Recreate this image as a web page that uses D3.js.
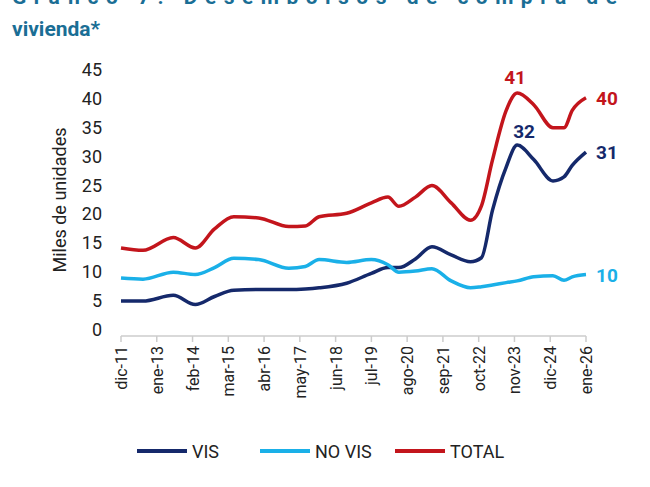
<!DOCTYPE html>
<html><head><meta charset="utf-8">
<script src="https://cdn.jsdelivr.net/npm/d3@7"></script>
<style>body{margin:0;background:#fff}svg{font-family:Roboto,"Liberation Sans",sans-serif}</style>
</head><body><div id="container"></div>
<script>
// months since dic-11
const months = [0, 8, 19, 27, 34, 41, 50, 61, 67, 72, 82, 91, 97, 101, 107, 113, 120, 127, 131, 135, 140, 144, 150, 157, 161, 164, 169]
const vis    = [5, 5, 6, 4.4, 5.8, 6.9, 7, 7, 7.1, 7.3, 8.1, 9.8, 10.8, 10.8, 12.3, 14.4, 13, 11.8, 12.5, 20.7, 28.2, 32, 29.5, 25.8, 26.5, 28.5, 30.8]
const noVis  = [9, 8.8, 10, 9.6, 10.8, 12.4, 12.2, 10.7, 11, 12.2, 11.7, 12.2, 11.3, 10, 10.2, 10.6, 8.5, 7.3, 7.5, 7.8, 8.2, 8.5, 9.2, 9.4, 8.6, 9.2, 9.6]
const total  = [14.2, 13.8, 16, 14.2, 17.5, 19.6, 19.4, 17.9, 18, 19.6, 20.2, 22, 23, 21.4, 23, 25, 22, 19, 21.5, 29.4, 38, 41, 39, 35, 35, 38, 40.2]
const tickLabels = ['dic-11','ene-13','feb-14','mar-15','abr-16','may-17','jun-18','jul-19','ago-20','sep-21','oct-22','nov-23','dic-24','ene-26']
const yTicks = [0, 5, 10, 15, 20, 25, 30, 35, 40, 45]
const series = [
  {name: 'VIS', values: vis, color: '#15296b', label: [{i: 21, dx: -4, dy: -14, t: '32'}, {i: 26, dx: 10, dy: 0, t: '31', anchor: 'start'}]},
  {name: 'NO VIS', values: noVis, color: '#1ab0e8', label: [{i: 26, dx: 10, dy: 0, t: '10', anchor: 'start'}]},
  {name: 'TOTAL', values: total, color: '#c3151c', label: [{i: 21, dx: -13, dy: -16, t: '41'}, {i: 26, dx: 10, dy: 0, t: '40', anchor: 'start'}]}
]

const width = 650, height = 487
const svg = d3.select('#container').append('svg').attr('width', width).attr('height', height)

const x = d3.scaleLinear().domain([0, 169]).range([121, 586])
const y = d3.scaleLinear().domain([0, 45]).range([330, 70])

// title (partly cut off at the top)
svg.append('text').attr('x', 12).attr('y', 4).attr('fill', '#1a6e95').attr('font-weight', 'bold')
  .attr('font-size', 21).attr('textLength', 605).attr('lengthAdjust', 'spacing')
  .text('Gráfico 7. Desembolsos de compra de')
svg.append('text').attr('x', 12).attr('y', 36).attr('fill', '#1a6e95').attr('font-weight', 'bold')
  .attr('font-size', 21).text('vivienda*')

// y axis labels
svg.selectAll('.ytick').data(yTicks).join('text')
  .attr('x', 102).attr('y', d => y(d) + 6).attr('text-anchor', 'end')
  .attr('font-size', 18).attr('fill', '#222').text(d => d)
svg.append('text').attr('transform', 'translate(66,200) rotate(-90)').attr('text-anchor', 'middle')
  .attr('font-size', 18).attr('fill', '#222').text('Miles de unidades')

// x axis
const tickMonths = tickLabels.map((d, i) => i * 13)
svg.append('line').attr('x1', x(0)).attr('x2', x(169)).attr('y1', 336).attr('y2', 336).attr('stroke', '#ccc').attr('stroke-width', 1.5)
svg.selectAll('.xt').data(tickMonths).join('line')
  .attr('x1', d => x(d)).attr('x2', d => x(d)).attr('y1', 336).attr('y2', 342).attr('stroke', '#ccc').attr('stroke-width', 1.5)
svg.selectAll('.xl').data(tickLabels).join('text')
  .attr('transform', (d, i) => `translate(${x(tickMonths[i]) + 6},346) rotate(-90)`)
  .attr('text-anchor', 'end').attr('font-size', 16).attr('fill', '#222').text(d => d)

// lines
const line = d3.line().x((d, i) => x(months[i])).y(d => y(d)).curve(d3.curveMonotoneX)
series.forEach(s => {
  svg.append('path').attr('d', line(s.values)).attr('fill', 'none')
    .attr('stroke', s.color).attr('stroke-width', 3.5).attr('stroke-linejoin', 'round')
  s.label.forEach(l => {
    svg.append('text').attr('x', x(months[l.i]) + l.dx).attr('y', y(s.values[l.i]) + l.dy + 7)
      .attr('text-anchor', l.anchor || 'start').attr('font-size', 19).attr('font-weight', 'bold')
      .attr('fill', s.color).text(l.t)
  })
})

// legend
const lx = [137, 260, 395]
series.forEach((s, i) => {
  svg.append('line').attr('x1', lx[i]).attr('x2', lx[i] + 50).attr('y1', 451).attr('y2', 451)
    .attr('stroke', s.color).attr('stroke-width', 4)
  svg.append('text').attr('x', lx[i] + 55).attr('y', 458).attr('font-size', 18).attr('fill', '#222').text(s.name)
})
</script></body></html>
